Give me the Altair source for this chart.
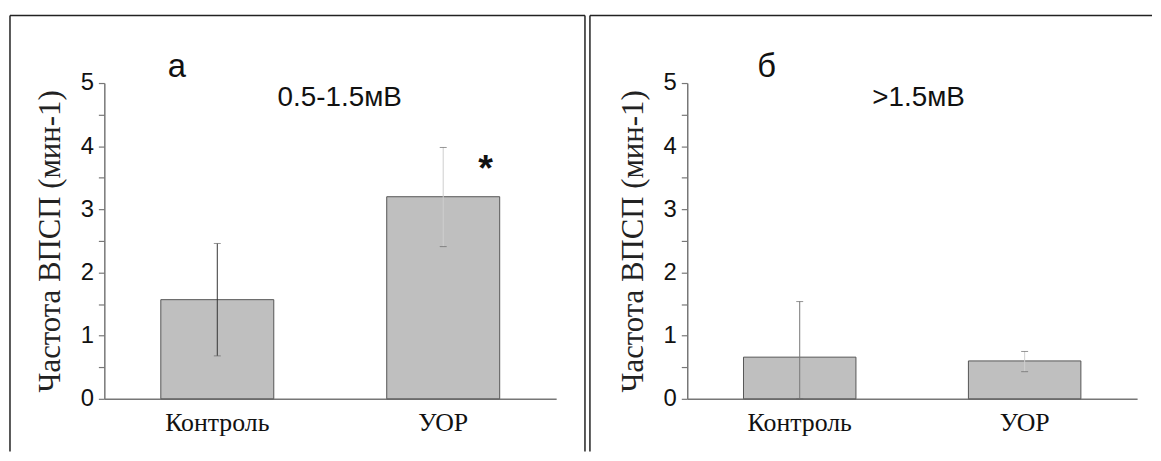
import altair as alt
import pandas as pd

groups = ["Контроль", "УОР"]
mean_a = [1.57, 3.20]
low_a = [0.68, 2.41]
high_a = [2.46, 3.98]
mean_b = [0.66, 0.60]
low_b = [0.0, 0.43]
high_b = [1.54, 0.75]

y_ticks = [0, 0.5, 1, 1.5, 2, 2.5, 3, 3.5, 4, 4.5, 5]
y_title = "Частота ВПСП (мин-1)"
one = alt.Data(values=[{}])


def x_enc():
    return alt.X(
        "group:N", sort=groups,
        scale=alt.Scale(paddingInner=0.5, paddingOuter=0.25),
        axis=alt.Axis(title=None, labelAngle=0, ticks=False, domainColor="#777",
                      domainWidth=1.5, labelFont="Liberation Serif", labelFontSize=26,
                      labelColor="#111", labelPadding=11),
    )


def y_enc(field):
    return alt.Y(
        field, type="quantitative", title=y_title,
        scale=alt.Scale(domain=[0, 5], nice=False),
        axis=alt.Axis(values=y_ticks, grid=False,
                      labelExpr="datum.value % 1 === 0 ? format(datum.value, 'd') : ''",
                      labelFont="Liberation Sans", labelFontSize=24, labelColor="#111",
                      labelPadding=5, tickSize=6, tickColor="#777", tickWidth=1.2,
                      domainColor="#777", domainWidth=1.5,
                      titleFont="Liberation Serif", titleFontSize=31, titleFontWeight="normal",
                      titleColor="#222", titleAngle=-90, titleX=-54, titleY=159,
                      titleAlign="center", titleBaseline="middle"),
    )


def panel(means, lows, highs, letter, letter_x, label, label_x, width,
          ctrl_line, exp_line, star, borders):
    df = pd.DataFrame({"group": groups, "mean": means, "low": lows, "high": highs})
    base = alt.Chart(df)
    bars = base.mark_bar(fill="#bfbfbf", stroke="#555", strokeWidth=1).encode(
        x=x_enc(), y=y_enc("mean"))
    err = base.mark_rule(strokeWidth=1).encode(
        x=x_enc(), y=y_enc("low"), y2="high:Q",
        color=alt.condition(alt.datum.group == "Контроль", alt.value(ctrl_line), alt.value(exp_line)))
    cap_hi = base.mark_tick(size=7, thickness=1, color="#666").encode(x=x_enc(), y=y_enc("high"))
    cap_lo = base.mark_tick(size=7, thickness=1, color="#666").encode(x=x_enc(), y=y_enc("low"))
    letter_t = alt.Chart(one).mark_text(text=letter, font="Liberation Sans", fontSize=33,
                                        color="#111", baseline="middle").encode(
        x=alt.value(letter_x), y=alt.value(-16))
    label_t = alt.Chart(one).mark_text(text=label, font="Liberation Sans", fontSize=28,
                                       color="#111", baseline="middle").encode(
        x=alt.value(label_x), y=alt.value(15))
    layers = [bars, err, cap_hi, cap_lo, letter_t, label_t]
    if star:
        layers.append(alt.Chart(one).mark_text(text="*", font="Liberation Sans", fontSize=38,
                                               fontWeight="bold", color="#111",
                                               baseline="middle").encode(
            x=alt.value(384), y=alt.value(88)))
    for b in borders:
        layers.append(alt.Chart(one).mark_rule(color="#222", strokeWidth=1.5).encode(**b))
    return alt.layer(*layers).properties(width=width, height=318)


left_borders = [
    dict(x=alt.value(-95), y=alt.value(-68), y2=alt.value(371)),
    dict(x=alt.value(-95), x2=alt.value(484), y=alt.value(-68)),
    dict(x=alt.value(484), y=alt.value(-68), y2=alt.value(371)),
]
right_borders = [
    dict(x=alt.value(-98), y=alt.value(-68), y2=alt.value(371)),
    dict(x=alt.value(-98), x2=alt.value(468), y=alt.value(-68)),
]

left = panel(mean_a, low_a, high_a, "а", 73, "0.5-1.5мВ", 237, 455,
             "#333", "#cfcfcf", True, left_borders)
right = panel(mean_b, low_b, high_b, "б", 80, ">1.5мВ", 233, 453,
              "#777", "#cfcfcf", False, right_borders)

chart = alt.hconcat(left, right, spacing=3).properties(
    padding={"left": 1, "top": 5, "right": 0, "bottom": 0}
).configure_view(stroke=None)

chart.save("out.html", embed_options={"renderer": "svg", "actions": False})
